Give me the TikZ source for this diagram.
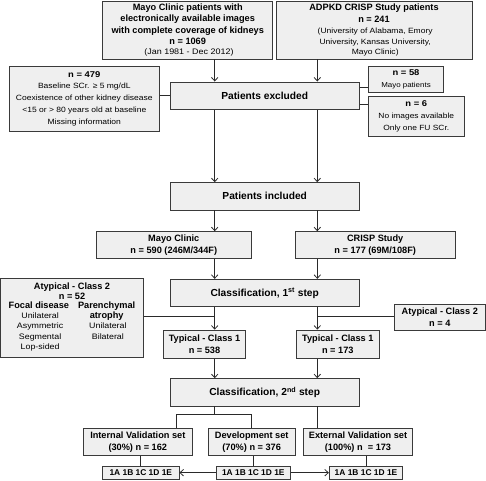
\documentclass[tikz,border=0pt]{standalone}
\usepackage{fontspec}
\setmainfont{Liberation Sans}
\newfontfamily\regf[FakeStretch=1.12]{Liberation Sans}
\usetikzlibrary{arrows.meta}
\definecolor{boxf}{HTML}{EFEFEF}
\definecolor{boxd}{HTML}{3A3A3A}
\definecolor{linec}{HTML}{2A2A2A}
\newcommand{\bigb}{\fontsize{10.2}{12}\selectfont\bfseries}
\newcommand{\medb}{\fontsize{9.2}{11.5}\selectfont\bfseries}
\newcommand{\rg}[2]{\fontsize{#1}{#2}\regf\mdseries}
\newcommand{\smb}{\fontsize{8.4}{11.5}\selectfont\bfseries}
\begin{document}
\begin{tikzpicture}[x=1pt,y=-1pt,
  box/.style={draw=boxd, fill=boxf, line width=0.9pt, inner sep=0pt, align=center, text=black},
  ln/.style={draw=linec, line width=0.8pt},
  arr/.style={ln, -{Straight Barb[length=3.5pt,width=6.5pt,line width=0.8pt]}}]
\useasboundingbox (0,0) rectangle (486,480);
\coordinate (L) at (214.7,0);
\coordinate (R) at (317.3,0);
\coordinate (LL) at (176.7,0);
\coordinate (LR) at (251,0);

\node[box, minimum width=170, minimum height=58, font=\medb] (mayo) at (187.7,30)
  {Mayo Clinic patients with\\electronically available images\\with complete coverage of kidneys\\n = 1069\\[-1.5pt]{\rg{8}{10} (Jan 1981 - Dec 2012)}};
\node[box, minimum width=196, minimum height=58, font=\medb] (adpkd) at (374,30)
  {ADPKD CRISP Study patients\\n = 241\\[-0.5pt]{\rg{7.6}{10} (University of Alabama, Emory}\\[-0.5pt]{\rg{7.6}{10} University, Kansas University,}\\[-1pt]{\rg{7.6}{10} Mayo Clinic)}};
\node[box, minimum width=150, minimum height=65, font=\rg{7.6}{11.7}] (ex479) at (84.3,98.5)
  {{\smb n = 479}\\Baseline SCr. ≥ 5 mg/dL\\Coexistence of other kidney disease\\<15 or > 80 years old at baseline\\Missing information};
\node[box, minimum width=189.3, minimum height=27.7, font=\bigb] (excl) at (264.7,95.8) {Patients excluded};
\node[box, minimum width=74.6, minimum height=26.7, font=\rg{7.1}{12.4}] (n58) at (406,79.3) {{\smb n = 58}\\Mayo patients};
\node[box, minimum width=95.3, minimum height=40, font=\rg{7.5}{12}] (n6) at (416.3,116.7) {{\smb n = 6}\\No images available\\Only one FU SCr.};
\node[box, minimum width=189.3, minimum height=27.3, font=\bigb] (incl) at (264.7,196.3) {Patients included};
\node[box, minimum width=155.7, minimum height=26.6, font=\medb] (mayoc) at (173.8,245) {Mayo Clinic\\n = 590 (246M/344F)};
\node[box, minimum width=160.3, minimum height=26.6, font=\medb] (crisp) at (375.2,245) {CRISP Study\\n = 177 (69M/108F)};
\node[box, minimum width=189.3, minimum height=27.4, font=\bigb] (cl1) at (264.7,293) {Classification, 1\textsuperscript{st} step};
\node[box, minimum width=143, minimum height=79, font=\medb] (at52) at (72,318.2)
  {Atypical - Class 2\\[-1.5pt]n = 52\\[-1pt]
   \begin{tabular}{@{}c@{\hspace{9pt}}c@{}}
   \medb Focal disease & \medb Parenchymal\\[-1.5pt]
   \rg{7.9}{10} Unilateral & \medb atrophy\\[-1pt]
   \rg{7.9}{10} Asymmetric & \rg{7.9}{10} Unilateral\\[-1pt]
   \rg{7.9}{10} Segmental & \rg{7.9}{10} Bilateral\\[-1pt]
   \rg{7.9}{10} Lop-sided & \\
   \end{tabular}};
\node[box, minimum width=91, minimum height=25.7, font=\medb] (at4) at (439.8,317.2) {Atypical - Class 2\\n = 4};
\node[box, minimum width=82.4, minimum height=28.3, font=\medb] (ty538) at (204.5,344.2) {Typical - Class 1\\n = 538};
\node[box, minimum width=82.3, minimum height=28.3, font=\medb] (ty173) at (337.8,344.2) {Typical - Class 1\\n = 173};
\node[box, minimum width=189.3, minimum height=27.3, font=\bigb] (cl2) at (264.7,392.3) {Classification, 2\textsuperscript{nd} step};
\node[box, minimum width=109, minimum height=27.4, font=\medb] (iv) at (137.8,442) {Internal Validation set\\(30\%) n = 162};
\node[box, minimum width=86.7, minimum height=27.4, font=\medb] (dv) at (251.7,442) {Development set\\(70\%) n = 376};
\node[box, minimum width=109.4, minimum height=27.4, font=\medb] (ev) at (358,442) {External Validation set\\(100\%) n \ = 173};
\node[box, minimum width=76.3, minimum height=13.3, font=\smb] (s1) at (140.8,472.7) {1A 1B 1C 1D 1E};
\node[box, minimum width=74.7, minimum height=13.3, font=\smb] (s2) at (253.3,472.7) {1A 1B 1C 1D 1E};
\node[box, minimum width=73.4, minimum height=13.3, font=\smb] (s3) at (366,472.7) {1A 1B 1C 1D 1E};

% connectors
\draw[arr] (mayo.south -| L) -- (excl.north -| L);
\draw[arr] (adpkd.south -| R) -- (excl.north -| R);
\coordinate (ya) at (0,95.7);
\draw[ln] (ex479.east |- ya) -- (excl.west |- ya);
\coordinate (yb) at (0,87.7);
\coordinate (yc) at (0,104);
\draw[ln] (excl.east |- yb) -- (n58.west |- yb);
\draw[ln] (excl.east |- yc) -- (n6.west |- yc);
\draw[arr] (excl.south -| L) -- (incl.north -| L);
\draw[arr] (excl.south -| R) -- (incl.north -| R);
\draw[arr] (incl.south -| L) -- (mayoc.north -| L);
\draw[arr] (incl.south -| R) -- (crisp.north -| R);
\draw[arr] (mayoc.south -| L) -- (cl1.north -| L);
\draw[arr] (crisp.south -| R) -- (cl1.north -| R);
\coordinate (yd) at (0,316.7);
\draw[arr] (cl1.south -| L) -- (ty538.north -| L);
\draw[arr] (cl1.south -| R) -- (ty173.north -| R);
\draw[ln] (at52.east |- yd) -- (L |- yd);
\draw[ln] (at4.west |- yd) -- (R |- yd);
\draw[arr] (ty538.south -| L) -- (cl2.north -| L);
\draw[arr] (ty173.south -| R) -- (cl2.north -| R);
\coordinate (ye) at (0,414.7);
\draw[ln] (cl2.south -| L) -- (L |- ye);
\draw[ln] (iv.north -| LL) -- (LL |- ye) -- (LR |- ye) -- (dv.north -| LR);
\draw[ln] (cl2.south -| R) -- (ev.north -| R);
\coordinate (c1) at (140.7,0);
\coordinate (c2) at (253.3,0);
\coordinate (c3) at (366.7,0);
\draw[ln] (iv.south -| c1) -- (s1.north -| c1);
\draw[ln] (dv.south -| c2) -- (s2.north -| c2);
\draw[ln] (ev.south -| c3) -- (s3.north -| c3);
\draw[arr] (s2.west) -- (s1.east);
\draw[arr] (s2.east) -- (s3.west);
\end{tikzpicture}
\end{document}
